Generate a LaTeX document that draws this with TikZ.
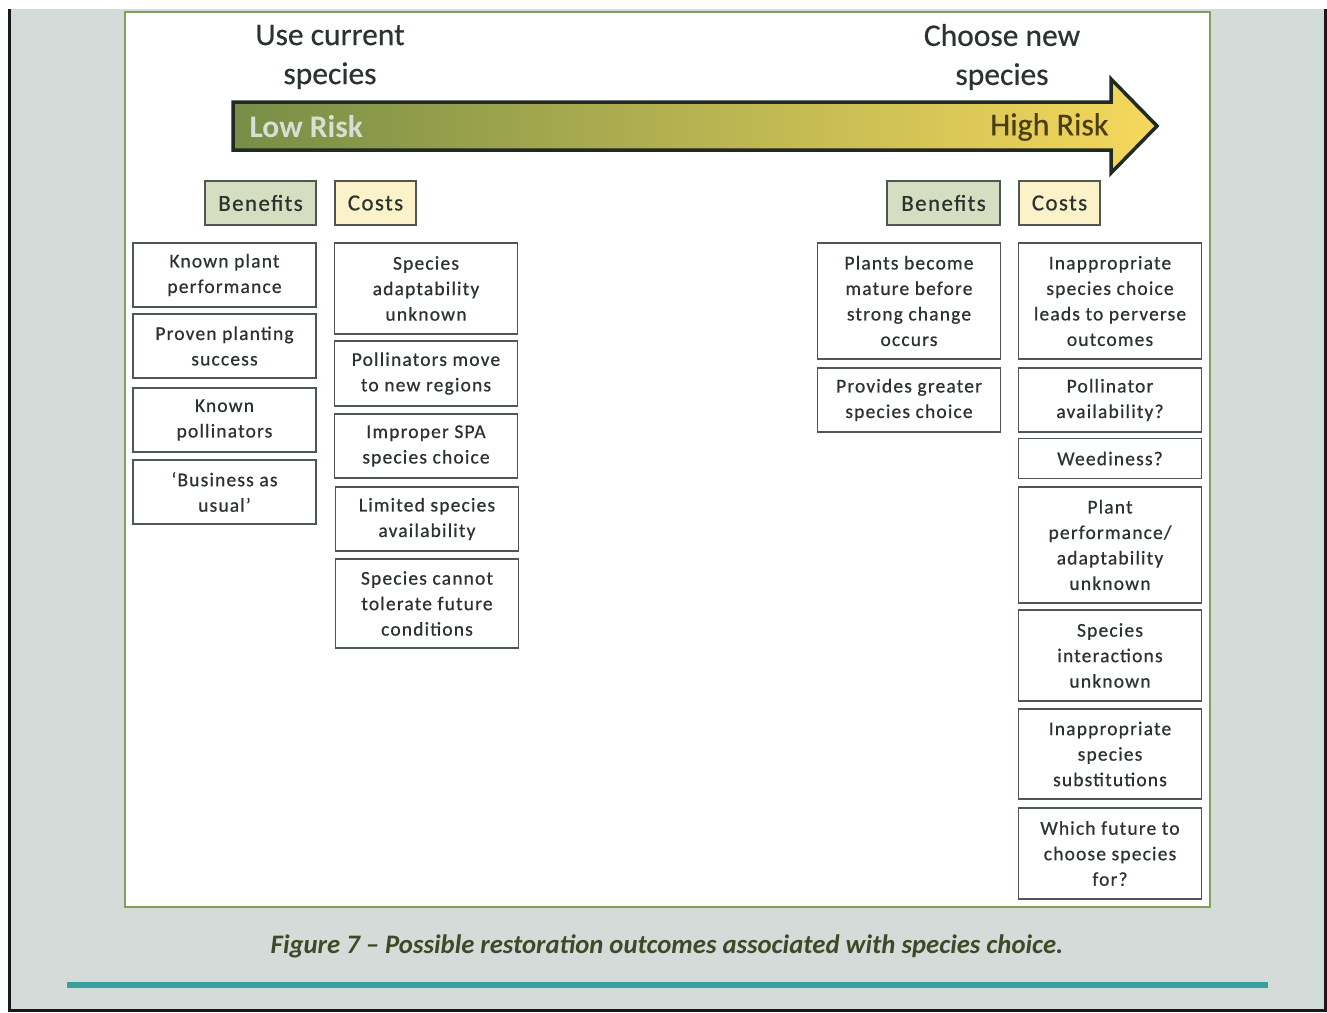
\documentclass[tikz,border=0pt]{standalone}
\usepackage{fontspec}
\setmainfont{Carlito}
\newfontfamily\boxfont[LetterSpace=6,FakeBold=0.6]{Carlito}
\newfontfamily\headfont[FakeBold=0.4]{Carlito}
\usetikzlibrary{shadings}

\definecolor{pagebg}{HTML}{D3DCD8}
\definecolor{panelline}{HTML}{869C58}
\definecolor{boxline}{HTML}{4E5752}
\definecolor{boxtext}{HTML}{2B332F}
\definecolor{benefitfill}{HTML}{D5DEC1}
\definecolor{costfill}{HTML}{FCF2C9}
\definecolor{arrowleft}{HTML}{778D46}
\definecolor{arrowmid}{HTML}{AEB05A}
\definecolor{arrowright}{HTML}{F6D85C}
\definecolor{arrowline}{HTML}{1E2A23}
\definecolor{lowtext}{HTML}{D6DFD3}
\definecolor{hightext}{HTML}{4A3F14}
\definecolor{captext}{HTML}{3C4A28}
\definecolor{tealbar}{HTML}{3A9E9D}

\tikzset{
  item/.style={draw=boxline, fill=white, line width=1.3pt, minimum width=183pt,
    inner sep=0pt, align=center, text=boxtext,
    font=\boxfont\fontsize{19.5}{25.5}\selectfont},
  headbox/.style={draw=boxline, line width=1.3pt, minimum height=44pt,
    inner sep=0pt, align=center, text=boxtext,
    font=\boxfont\fontsize{23}{25}\selectfont},
  title/.style={align=center, text=boxtext, font=\headfont\fontsize{31.5}{39}\selectfont},
}

\begin{document}
\begin{tikzpicture}[x=1pt,y=1pt,yscale=-1]
    \useasboundingbox (0,0) rectangle (1327,1012);
    % page background and frame
    \fill[white] (0,0) rectangle (1327,1012);
    \fill[pagebg] (8,9) rectangle (1327,1012);
    \fill[black!90] (8,9) rectangle (11,1012);
    \fill[black!90] (1324,9) rectangle (1327,1012);
    \fill[black!90] (8,1009) rectangle (1327,1012);
    % white panel
    \draw[panelline, line width=2pt, fill=white] (125,12) rectangle (1210,907);

    % titles
    \node[title] (usecur) at (330,57) {Use current\\species};
    \node[title] (choosenew) at (1002,57) {Choose new\\species};

    % risk arrow
    \draw[arrowline, line width=3.5pt, line join=miter,
      left color=arrowleft, middle color=arrowmid, right color=arrowright]
      (233,102) -- (1111,102) -- (1111,79) -- (1157,126) -- (1111,173)
      -- (1111,150) -- (233,150) -- cycle;
    \node[anchor=west, text=lowtext, font=\bfseries\fontsize{31.5}{32}\selectfont] (lowrisk) at (246,127) {Low Risk};
    \node[anchor=east, text=hightext, font=\headfont\fontsize{32}{32}\selectfont] (highrisk) at (1112,127) {High Risk};

    % headers
    \node[headbox, fill=benefitfill, minimum width=111pt] (benleft) at (260.5,203) {Benefits};
    \node[headbox, fill=costfill, minimum width=81pt] (costleft) at (375.5,203) {Costs};
    \node[headbox, fill=benefitfill, minimum width=113pt] (benright) at (943.5,203) {Benefits};
    \node[headbox, fill=costfill, minimum width=81pt] (costright) at (1059.5,203) {Costs};

    % use current species: benefits
    \node[item, minimum height=64pt] (knownperf) at (224.5,275) {Known plant\\performance};
    \node[item, minimum height=64pt] (proven) at (224.5,346) {Proven planting\\success};
    \node[item, minimum height=64pt] (knownpoll) at (224.5,420) {Known\\pollinators};
    \node[item, minimum height=64pt] (business) at (224.5,492) {‘Business as\\usual’};

    % use current species: costs
    \node[item, minimum height=91pt] (adaptunk) at (426,288.5) {Species\\adaptability\\unknown};
    \node[item, minimum height=65pt] (pollmove) at (426,373.5) {Pollinators move\\to new regions};
    \node[item, minimum height=64pt] (improper) at (426,446) {Improper SPA\\species choice};
    \node[item, minimum height=64pt] (limited) at (427,519) {Limited species\\availability};
    \node[item, minimum height=89pt] (tolerate) at (427,603.5) {Species cannot\\tolerate future\\conditions};

    % choose new species: benefits
    \node[item, minimum height=116pt] (mature) at (909,301) {Plants become\\mature before\\strong change\\occurs};
    \node[item, minimum height=64pt] (greater) at (909,400) {Provides greater\\species choice};

    % choose new species: costs
    \node[item, minimum height=116pt] (perverse) at (1110,301) {Inappropriate\\species choice\\leads to perverse\\outcomes};
    \node[item, minimum height=64pt] (pollavail) at (1110,400) {Pollinator\\availability?};
    \node[item, minimum height=40pt] (weed) at (1110,458.5) {Weediness?};
    \node[item, minimum height=116pt] (perfunk) at (1110,545) {Plant\\performance/\\adaptability\\unknown};
    \node[item, minimum height=91pt] (interact) at (1110,655.5) {Species\\interactions\\unknown};
    \node[item, minimum height=90pt] (substit) at (1110,754) {Inappropriate\\species\\substitutions};
    \node[item, minimum height=91pt] (whichfut) at (1110,853.5) {Which future to\\choose species\\for?};

    % caption and rule
    \node[text=captext, font=\bfseries\itshape\fontsize{26.7}{30}\selectfont] (caption) at (667,946)
      {Figure 7 – Possible restoration outcomes associated with species choice.};
    \fill[tealbar] (67,982) rectangle (1268,988);
\end{tikzpicture}
\end{document}
